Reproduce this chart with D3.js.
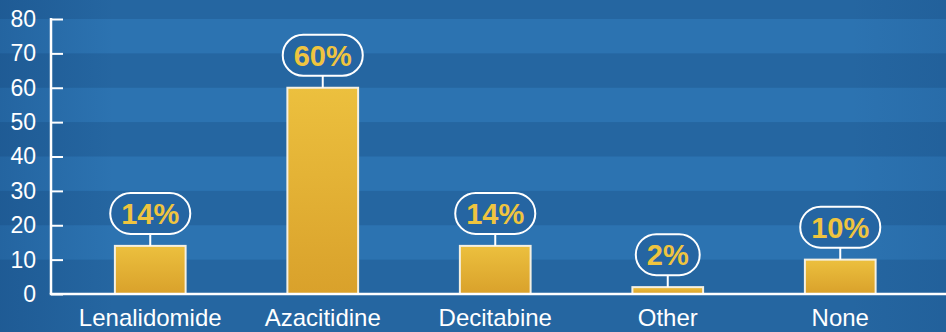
<!DOCTYPE html>
<html>
<head>
<meta charset="utf-8">
<script src="https://cdn.jsdelivr.net/npm/d3@7"></script>
<style>
  html, body { margin: 0; padding: 0; background: #2566a2; }
  svg { display: block; }
  text { font-family: "Liberation Sans", Arial, sans-serif; }
</style>
</head>
<body>
<script>
// Treatment categories and share of patients (%)
const categories = ["Lenalidomide", "Azacitidine", "Decitabine", "Other", "None"];
const values = [14, 60, 14, 2, 10];
const valueLabels = ["14%", "60%", "14%", "2%", "10%"];
const yTicks = [0, 10, 20, 30, 40, 50, 60, 70, 80];

const W = 946, H = 332;
const svg = d3.select("body").append("svg").attr("width", W).attr("height", H);

const y = d3.scaleLinear().domain([0, 80]).range([294, 19]);
const x = d3.scaleBand().domain(categories).range([64, 926.5])
  .paddingInner(0.59).paddingOuter(0.295);
const axisX = 51;

const defs = svg.append("defs");
const barGrad = defs.append("linearGradient").attr("id", "barGrad")
  .attr("x1", 0).attr("y1", 0).attr("x2", 0).attr("y2", 1);
barGrad.append("stop").attr("offset", 0).attr("stop-color", "#ecc03e");
barGrad.append("stop").attr("offset", 1).attr("stop-color", "#d9a12b");

const shade = defs.append("linearGradient").attr("id", "shade")
  .attr("x1", 0).attr("y1", 0).attr("x2", 1).attr("y2", 0);
shade.append("stop").attr("offset", 0).attr("stop-color", "#0c3a70").attr("stop-opacity", 0.25);
shade.append("stop").attr("offset", 0.12).attr("stop-color", "#0c3a70").attr("stop-opacity", 0);
shade.append("stop").attr("offset", 0.9).attr("stop-color", "#0c3a70").attr("stop-opacity", 0);
shade.append("stop").attr("offset", 1).attr("stop-color", "#0c3a70").attr("stop-opacity", 0.12);

// Background: base colour with alternating horizontal stripes between gridlines
svg.append("rect").attr("width", W).attr("height", H).attr("fill", "#2566a1");
const bands = d3.range(0, 80, 10).filter(v => (v / 10) % 2 === 1);
svg.append("g").selectAll("rect").data(bands).join("rect")
  .attr("x", 0).attr("width", W)
  .attr("y", d => y(d + 10)).attr("height", d => y(d) - y(d + 10))
  .attr("fill", "#2c73b1");
svg.append("rect").attr("width", W).attr("height", H).attr("fill", "url(#shade)");

// Y axis (ticks point inward, labels right-aligned left of the axis)
const yAxis = d3.axisLeft(y).tickValues(yTicks).tickSize(-12).tickPadding(15);
const gy = svg.append("g").attr("transform", `translate(${axisX},0)`).call(yAxis);
gy.select(".domain").remove();
gy.selectAll(".tick line").attr("stroke", "#ffffff").attr("stroke-width", 2);
gy.selectAll(".tick text").attr("fill", "#ffffff").attr("font-size", 23)
  .attr("font-family", "Liberation Sans, Arial, sans-serif");
svg.append("line").attr("x1", axisX).attr("x2", axisX)
  .attr("y1", y(80) - 1).attr("y2", y(0))
  .attr("stroke", "#ffffff").attr("stroke-width", 2.5);

// Bars
svg.append("g").selectAll("rect").data(categories).join("rect")
  .attr("x", d => x(d)).attr("width", x.bandwidth())
  .attr("y", (d, i) => y(values[i])).attr("height", (d, i) => y(0) - y(values[i]))
  .attr("fill", "url(#barGrad)").attr("stroke", "#f4f0e2").attr("stroke-width", 2);

// Baseline / x axis
const xAxis = d3.axisBottom(x).tickSize(0).tickPadding(15);
const gx = svg.append("g").attr("transform", `translate(0,${y(0)})`).call(xAxis);
gx.select(".domain").remove();
gx.selectAll(".tick text").attr("fill", "#ffffff").attr("font-size", 24)
  .attr("font-family", "Liberation Sans, Arial, sans-serif");
svg.append("line").attr("x1", axisX - 1.25).attr("x2", W)
  .attr("y1", y(0)).attr("y2", y(0))
  .attr("stroke", "#ffffff").attr("stroke-width", 2.5);

// Value callouts: rounded pill with connector to the bar top
const callouts = svg.append("g").selectAll("g").data(categories).join("g")
  .attr("transform", (d, i) => `translate(${x(d) + x.bandwidth() / 2},${y(values[i]) - 12})`);
callouts.append("line").attr("x1", 0).attr("x2", 0).attr("y1", 0).attr("y2", 12)
  .attr("stroke", "#ffffff").attr("stroke-width", 2);
const pills = callouts.append("rect").attr("y", -41).attr("height", 41)
  .attr("rx", 20.5).attr("ry", 20.5)
  .attr("fill", "#2565a2").attr("stroke", "#ffffff").attr("stroke-width", 2);
const labels = callouts.append("text")
  .attr("text-anchor", "middle").attr("y", -10)
  .attr("font-size", 29).attr("font-weight", "bold").attr("fill", "#efc43f")
  .text((d, i) => valueLabels[i]);
labels.each(function (d, i) {
  const w = this.getComputedTextLength() + 22;
  d3.select(pills.nodes()[i]).attr("x", -w / 2).attr("width", w);
});
</script>
</body>
</html>
